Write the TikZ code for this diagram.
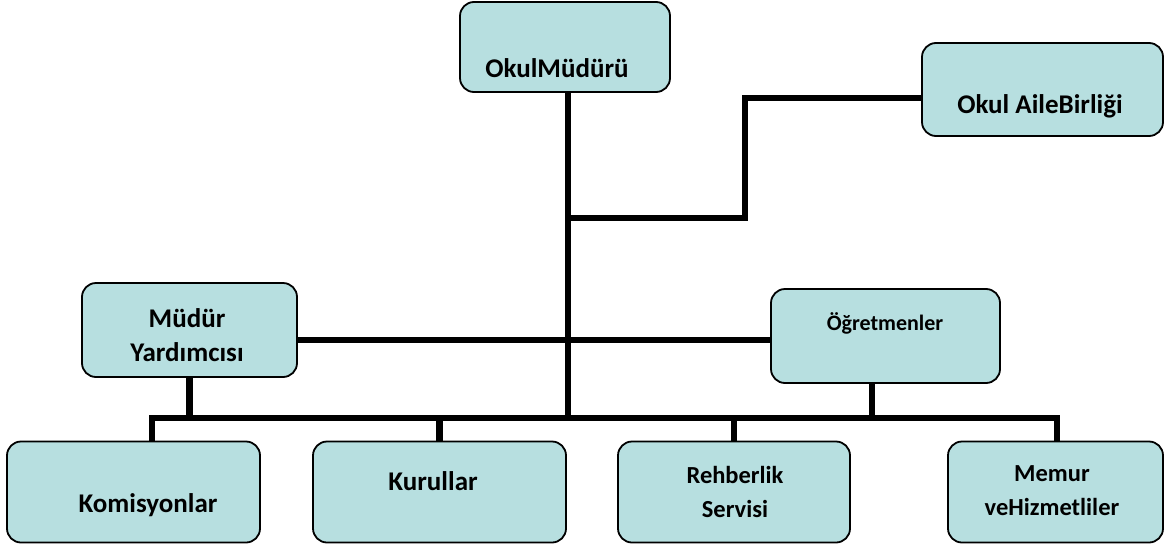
\documentclass[tikz,border=0pt]{standalone}
\usepackage{fontspec}
\setmainfont{Carlito}
\definecolor{boxfill}{HTML}{B7DFE0}
\begin{document}
\begin{tikzpicture}[x=1pt,y=-1pt,
  box/.style={draw=black, line width=1.8pt, fill=boxfill, rounded corners=14pt, inner sep=0pt},
  lbl/.style={font=\bfseries\fontsize{27}{34}\selectfont, align=center, inner sep=0pt},
  lblm/.style={font=\bfseries\fontsize{24.5}{34}\selectfont, align=center, inner sep=0pt},
  lbls/.style={font=\bfseries\fontsize{22}{26}\selectfont, align=center, inner sep=0pt},
  conn/.style={line width=6.5pt, line join=miter}]
\useasboundingbox (0,0) rectangle (1169,546);
% boxes
\node[box, minimum width=210pt, minimum height=90pt] (om) at (565,47) {};
\node[box, minimum width=241pt, minimum height=93pt] (ab) at (1042.5,89.5) {};
\node[box, minimum width=215pt, minimum height=94pt] (my) at (189.5,330) {};
\node[box, minimum width=229pt, minimum height=94pt] (og) at (885.5,336) {};
\node[box, minimum width=253pt, minimum height=101pt] (kom) at (133.5,492) {};
\node[box, minimum width=253pt, minimum height=101pt] (kur) at (439.5,492) {};
\node[box, minimum width=232pt, minimum height=101pt] (reh) at (734,492) {};
\node[box, minimum width=215pt, minimum height=101pt] (mem) at (1055.5,492) {};
% texts
\node[lbl] (tom) at (557,68) {OkulMüdürü};
\node[lbl] (tab) at (1040,106) {Okul AileBirliği};
\node[lbl] (tmy) at (187,335) {Müdür\\Yardımcısı};
\node[lbls] (tog) at (885,323) {Öğretmenler};
\node[lbl] (tkom) at (148,505) {Komisyonlar};
\node[lbl] (tkur) at (433,481) {Kurullar};
\node[lblm] (treh) at (735,492) {Rehberlik\\Servisi};
\node[lblm] (tmem) at (1052,491) {Memur\\veHizmetliler};
% junction coordinates
\coordinate (tb) at (568,418);
\coordinate (j1) at (568,218);
\coordinate (j2) at (745,98);
\coordinate (h2) at (568,340);
\coordinate (busL) at (152,418);
\coordinate (busR) at (1057,418);
\coordinate (ogs) at (872,418);
% connectors
\draw[conn] (om.south -| tb) -- (tb);
\draw[conn] (j1) -| (j2) -- (j2 -| ab.west);
\draw[conn] (my.east |- h2) -- (og.west |- h2);
\draw[conn] (busL |- kom.north) -- (busL) -- (busR) -- (busR |- mem.north);
\draw[conn] (my.south) -- (my.south |- busL);
\draw[conn] (ogs |- og.south) -- (ogs);
\draw[conn] (kur.north) -- (kur.north |- busL);
\draw[conn] (reh.north) -- (reh.north |- busL);
\end{tikzpicture}
\end{document}
